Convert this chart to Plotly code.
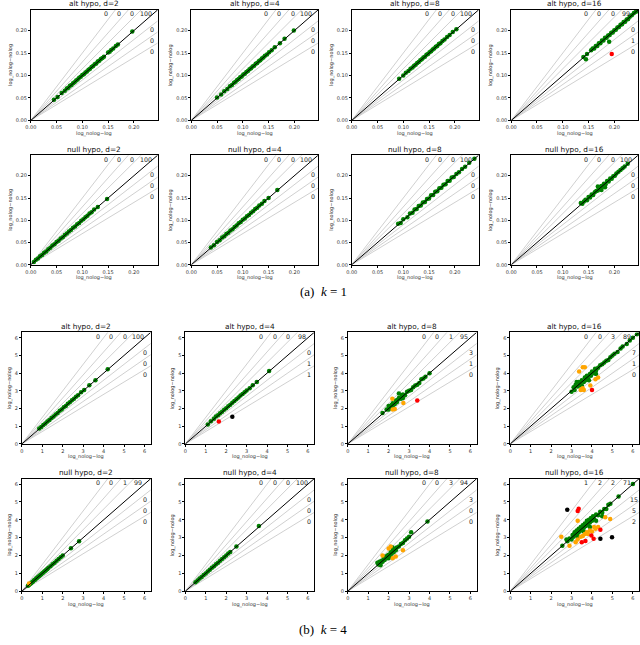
import plotly.graph_objects as go

# ---------------- data ----------------
slopes = [1.5, 1.3, 1.15, 0.9, 0.8, 0.7]
region_colors = ["#008000", "#FFA500", "#FF0000", "#000000"]
k1_max = 0.246
k4_max = 6.3
k1_ticks = [0.0, 0.05, 0.10, 0.15, 0.20]
k4_ticks = [0, 1, 2, 3, 4, 5, 6]
x_label = "log_nolog\u2212log"
y_label = "log_nolog\u2212nolog"

titles = ["alt hypo, d=2", "alt hypo, d=4", "alt hypo, d=8", "alt hypo, d=16",
          "null hypo, d=2", "null hypo, d=4", "null hypo, d=8", "null hypo, d=16"]

# k = 1, alternative hypothesis
a1_d2_x = [0.045, 0.052, 0.060, 0.066, 0.070, 0.073, 0.076, 0.079, 0.082, 0.085, 0.088, 0.091, 0.094, 0.097,
           0.100, 0.103, 0.106, 0.109, 0.112, 0.115, 0.118, 0.121, 0.124, 0.127, 0.130, 0.133, 0.136, 0.139,
           0.142, 0.150, 0.153, 0.156, 0.160, 0.165, 0.169, 0.197]
a1_d2_y = [0.046, 0.052, 0.061, 0.066, 0.071, 0.073, 0.077, 0.079, 0.083, 0.085, 0.089, 0.091, 0.095, 0.097,
           0.101, 0.103, 0.107, 0.109, 0.113, 0.115, 0.119, 0.121, 0.125, 0.127, 0.131, 0.133, 0.137, 0.139,
           0.142, 0.151, 0.153, 0.157, 0.160, 0.166, 0.169, 0.198]
a1_d4_x = [0.050, 0.058, 0.064, 0.070, 0.075, 0.079, 0.083, 0.086, 0.089, 0.092, 0.095, 0.098, 0.101, 0.104,
           0.107, 0.110, 0.113, 0.116, 0.119, 0.122, 0.125, 0.128, 0.131, 0.134, 0.137, 0.140, 0.143, 0.147,
           0.151, 0.156, 0.162, 0.172, 0.181, 0.199]
a1_d4_y = [0.051, 0.058, 0.065, 0.070, 0.076, 0.079, 0.084, 0.086, 0.090, 0.092, 0.096, 0.098, 0.102, 0.104,
           0.108, 0.110, 0.114, 0.116, 0.120, 0.122, 0.126, 0.128, 0.132, 0.134, 0.138, 0.140, 0.144, 0.147,
           0.152, 0.156, 0.163, 0.172, 0.182, 0.200]
a1_d8_x = [0.092, 0.100, 0.105, 0.110, 0.114, 0.118, 0.121, 0.124, 0.127, 0.130, 0.133, 0.136, 0.139, 0.142,
           0.145, 0.148, 0.151, 0.154, 0.157, 0.160, 0.163, 0.166, 0.169, 0.172, 0.176, 0.180, 0.185, 0.190,
           0.196, 0.203]
a1_d8_y = [0.093, 0.100, 0.106, 0.110, 0.115, 0.118, 0.122, 0.124, 0.128, 0.130, 0.134, 0.136, 0.140, 0.142,
           0.146, 0.148, 0.152, 0.154, 0.158, 0.160, 0.164, 0.166, 0.170, 0.172, 0.177, 0.180, 0.186, 0.190,
           0.197, 0.203]
a1_d16_x = [0.140, 0.145, 0.147, 0.155, 0.158, 0.161, 0.164, 0.167, 0.170, 0.173, 0.176, 0.179, 0.182, 0.185,
            0.188, 0.191, 0.194, 0.197, 0.200, 0.203, 0.206, 0.209, 0.212, 0.215, 0.218, 0.221, 0.224, 0.227,
            0.230, 0.234, 0.238, 0.242, 0.190, 0.195]
a1_d16_y = [0.141, 0.136, 0.148, 0.156, 0.160, 0.160, 0.166, 0.166, 0.172, 0.172, 0.178, 0.178, 0.184, 0.184,
            0.189, 0.190, 0.195, 0.196, 0.201, 0.202, 0.207, 0.208, 0.213, 0.214, 0.219, 0.220, 0.225, 0.226,
            0.231, 0.234, 0.239, 0.242, 0.175, 0.148]

# k = 1, null hypothesis
n1_d2_x = [0.006, 0.010, 0.014, 0.018, 0.022, 0.026, 0.030, 0.034, 0.038, 0.042, 0.046, 0.050, 0.054, 0.058,
           0.062, 0.066, 0.070, 0.074, 0.078, 0.082, 0.086, 0.090, 0.094, 0.098, 0.102, 0.106, 0.110, 0.114,
           0.118, 0.123, 0.130, 0.148]
n1_d2_y = [0.006, 0.011, 0.014, 0.019, 0.022, 0.027, 0.030, 0.035, 0.038, 0.043, 0.046, 0.051, 0.054, 0.059,
           0.062, 0.067, 0.070, 0.075, 0.078, 0.083, 0.086, 0.091, 0.094, 0.099, 0.102, 0.107, 0.110, 0.115,
           0.118, 0.124, 0.130, 0.148]
n1_d4_x = [0.038, 0.044, 0.050, 0.055, 0.060, 0.064, 0.068, 0.072, 0.076, 0.080, 0.084, 0.088, 0.092, 0.096,
           0.100, 0.104, 0.108, 0.112, 0.116, 0.120, 0.124, 0.128, 0.132, 0.137, 0.142, 0.150, 0.167]
n1_d4_y = [0.039, 0.044, 0.051, 0.055, 0.061, 0.064, 0.069, 0.072, 0.077, 0.080, 0.085, 0.088, 0.093, 0.096,
           0.101, 0.104, 0.109, 0.112, 0.117, 0.120, 0.125, 0.128, 0.133, 0.137, 0.143, 0.150, 0.168]
n1_d8_x = [0.090, 0.095, 0.100, 0.108, 0.113, 0.118, 0.122, 0.126, 0.130, 0.134, 0.138, 0.142, 0.146, 0.150,
           0.154, 0.158, 0.162, 0.166, 0.170, 0.174, 0.178, 0.182, 0.186, 0.190, 0.194, 0.198, 0.203, 0.208,
           0.214, 0.220, 0.228, 0.238]
n1_d8_y = [0.092, 0.094, 0.102, 0.107, 0.115, 0.117, 0.124, 0.125, 0.132, 0.133, 0.140, 0.141, 0.148, 0.149,
           0.156, 0.157, 0.164, 0.165, 0.172, 0.173, 0.180, 0.181, 0.188, 0.189, 0.196, 0.197, 0.204, 0.208,
           0.215, 0.220, 0.229, 0.238]
n1_d16_x = [0.135, 0.138, 0.141, 0.144, 0.147, 0.150, 0.153, 0.156, 0.159, 0.162, 0.165, 0.168, 0.170, 0.172,
            0.175, 0.178, 0.180, 0.183, 0.186, 0.189, 0.192, 0.195, 0.198, 0.201, 0.204, 0.208, 0.212, 0.216,
            0.220, 0.226, 0.168, 0.175, 0.182]
n1_d16_y = [0.139, 0.137, 0.142, 0.146, 0.145, 0.152, 0.151, 0.158, 0.157, 0.163, 0.166, 0.167, 0.174, 0.170,
            0.177, 0.176, 0.182, 0.181, 0.188, 0.187, 0.194, 0.193, 0.199, 0.200, 0.205, 0.209, 0.213, 0.217,
            0.221, 0.227, 0.176, 0.168, 0.174]

# k = 4, alternative hypothesis
a4_d2_x = [0.85, 0.95, 1.05, 1.15, 1.25, 1.35, 1.45, 1.55, 1.65, 1.75, 1.85, 1.95, 2.05, 2.15, 2.25, 2.35,
           2.45, 2.55, 2.65, 2.75, 2.90, 3.05, 3.30, 3.60, 4.20]
a4_d2_y = [0.87, 0.96, 1.07, 1.15, 1.27, 1.35, 1.47, 1.55, 1.67, 1.75, 1.87, 1.95, 2.07, 2.15, 2.27, 2.35,
           2.47, 2.55, 2.67, 2.75, 2.92, 3.05, 3.32, 3.60, 4.22]
a4_d4_x = [1.10, 1.25, 1.40, 1.50, 1.60, 1.70, 1.80, 1.90, 2.00, 2.10, 2.20, 2.30, 2.40, 2.50, 2.60, 2.70,
           2.80, 2.90, 3.00, 3.15, 3.30, 3.50, 4.10, 1.64, 2.30]
a4_d4_y = [1.10, 1.28, 1.42, 1.55, 1.62, 1.73, 1.82, 1.93, 2.02, 2.13, 2.22, 2.33, 2.42, 2.53, 2.62, 2.73,
           2.82, 2.92, 3.02, 3.15, 3.32, 3.50, 4.12, 1.27, 1.54]
a4_d8_x = [1.70, 1.90, 2.00, 2.05, 2.10, 2.15, 2.20, 2.30, 2.35, 2.40, 2.45, 2.50, 2.60, 2.65, 2.70, 2.80,
           2.90, 3.00, 3.10, 3.20, 3.30, 3.40, 3.50, 3.60, 3.70, 3.80, 4.00, 2.50, 2.20, 2.00, 2.70,
           2.18, 2.20, 2.30, 2.72, 3.40]
a4_d8_y = [1.75, 1.95, 1.95, 2.15, 2.05, 2.20, 2.30, 2.25, 2.45, 2.35, 2.50, 2.60, 2.55, 2.75, 2.80, 2.75,
           2.95, 3.00, 3.05, 3.20, 3.30, 3.35, 3.45, 3.65, 3.70, 3.80, 4.00, 2.85, 2.10, 2.15, 2.60,
           2.55, 1.95, 1.98, 2.32, 2.45]
a4_d16_x = [3.00, 3.10, 3.15, 3.20, 3.30, 3.35, 3.40, 3.45, 3.50, 3.60, 3.65, 3.70, 3.75, 3.80, 3.90, 3.95,
            4.00, 4.10, 4.15, 4.20, 4.30, 4.40, 4.50, 4.60, 4.70, 4.80, 4.90, 5.00, 5.10, 5.25, 5.40, 5.50,
            5.70, 5.85, 6.00, 6.20, 3.50, 3.25, 4.20, 3.85,
            3.37, 3.55, 3.65, 3.45, 3.50, 3.60, 3.55, 3.92, 4.17, 4.30, 4.00]
a4_d16_y = [2.95, 3.20, 3.05, 3.35, 3.25, 3.50, 3.40, 3.30, 3.60, 3.50, 3.75, 3.60, 3.85, 3.70, 3.95, 3.85,
            4.10, 4.00, 4.25, 4.15, 4.30, 4.45, 4.50, 4.60, 4.70, 4.75, 4.90, 5.00, 5.10, 5.20, 5.40, 5.50,
            5.65, 5.85, 6.00, 6.20, 3.30, 3.50, 3.95, 3.60,
            4.09, 4.33, 4.33, 3.05, 3.10, 3.05, 3.15, 3.30, 3.66, 3.75, 3.05]

# k = 4, null hypothesis
n4_d2_x = [0.30, 0.35, 0.40, 0.45, 0.50, 0.55, 0.60, 0.65, 0.70, 0.75, 0.80, 0.85, 0.90, 0.95, 1.00, 1.05,
           1.10, 1.15, 1.20, 1.25, 1.30, 1.40, 1.50, 1.60, 1.70, 1.80, 1.90, 2.00, 2.40, 2.80, 0.35]
n4_d2_y = [0.31, 0.35, 0.41, 0.45, 0.51, 0.55, 0.61, 0.65, 0.71, 0.75, 0.81, 0.85, 0.91, 0.95, 1.01, 1.05,
           1.11, 1.15, 1.21, 1.25, 1.31, 1.40, 1.51, 1.60, 1.71, 1.80, 1.91, 2.00, 2.41, 2.80, 0.43]
n4_d4_x = [0.50, 0.60, 0.70, 0.80, 0.90, 1.00, 1.10, 1.20, 1.30, 1.40, 1.50, 1.60, 1.70, 1.80, 1.90, 2.00,
           2.10, 2.20, 2.50, 3.60]
n4_d4_y = [0.51, 0.60, 0.71, 0.80, 0.91, 1.00, 1.11, 1.20, 1.31, 1.40, 1.51, 1.60, 1.71, 1.80, 1.91, 2.00,
           2.11, 2.20, 2.50, 3.65]
n4_d8_x = [1.45, 1.50, 1.55, 1.60, 1.65, 1.70, 1.75, 1.80, 1.85, 1.90, 1.95, 2.00, 2.05, 2.10, 2.15, 2.20,
           2.25, 2.30, 2.35, 2.40, 2.50, 2.60, 2.70, 2.80, 2.90, 3.00, 3.10, 3.90, 1.60, 2.00, 2.20,
           1.70, 2.00, 2.10, 2.35, 2.20, 2.70]
n4_d8_y = [1.60, 1.50, 1.65, 1.55, 1.70, 1.65, 1.80, 1.75, 1.95, 1.85, 2.00, 2.05, 1.95, 2.20, 2.10, 2.30,
           2.20, 2.35, 2.30, 2.45, 2.50, 2.65, 2.70, 2.85, 2.95, 3.05, 3.30, 3.90, 1.45, 1.85, 2.45,
           2.00, 2.40, 2.50, 1.95, 1.85, 2.30]
n4_d16_x = [2.55, 2.80, 2.90, 3.00, 3.05, 3.10, 3.15, 3.20, 3.25, 3.30, 3.35, 3.40, 3.45, 3.50, 3.55, 3.60,
            3.65, 3.70, 3.75, 3.80, 3.85, 3.90, 3.95, 4.00, 4.05, 4.10, 4.20, 4.30, 4.40, 4.50, 4.60, 4.70,
            4.80, 4.90, 5.30, 6.00, 2.75, 3.30, 3.60, 3.90, 4.20, 4.50,
            2.79, 3.30, 3.35, 2.50, 3.30,
            2.90, 3.20, 3.30, 3.45, 3.55, 3.65, 3.75, 3.80, 3.90, 4.00, 4.10, 4.17, 4.30, 4.65, 4.89,
            3.50, 3.68, 3.97, 4.08, 4.41, 4.41, 4.98]
n4_d16_y = [2.55, 2.80, 2.95, 2.90, 3.15, 3.05, 3.30, 3.15, 3.40, 3.25, 3.50, 3.35, 3.60, 3.45, 3.70, 3.55,
            3.80, 3.65, 3.95, 3.75, 4.00, 3.85, 4.10, 3.95, 4.20, 4.05, 4.30, 4.25, 4.45, 4.40, 4.60, 4.60,
            4.85, 4.90, 5.30, 6.00, 2.90, 3.05, 3.35, 3.60, 3.95, 4.20,
            4.57, 4.50, 4.62, 3.05, 3.95,
            2.55, 2.75, 2.90, 3.05, 3.10, 3.20, 3.30, 3.20, 3.40, 3.35, 3.60, 3.50, 3.60, 4.14, 4.05,
            2.75, 2.81, 3.12, 2.94, 3.44, 2.94, 3.03]

# region counts printed in each panel (top row of labels, right column of labels)
top_counts = [[0, 0, 0, 100], [0, 0, 0, 100], [0, 0, 0, 100], [0, 0, 0, 99],
              [0, 0, 0, 100], [0, 0, 0, 100], [0, 0, 0, 100], [0, 0, 0, 100],
              [0, 0, 0, 100], [0, 0, 0, 98], [0, 0, 1, 95], [0, 0, 3, 89],
              [0, 0, 1, 99], [0, 0, 0, 100], [0, 0, 3, 94], [1, 2, 2, 71]]
right_counts = [[0, 0, 0], [0, 0, 0], [0, 0, 0], [0, 1, 0],
                [0, 0, 0], [0, 0, 0], [0, 0, 0], [0, 0, 0],
                [0, 0, 0], [0, 1, 1], [3, 1, 0], [7, 1, 0],
                [0, 0, 0], [0, 0, 0], [3, 0, 0], [15, 5, 2]]

panels = [
    (a1_d2_x, a1_d2_y), (a1_d4_x, a1_d4_y), (a1_d8_x, a1_d8_y), (a1_d16_x, a1_d16_y),
    (n1_d2_x, n1_d2_y), (n1_d4_x, n1_d4_y), (n1_d8_x, n1_d8_y), (n1_d16_x, n1_d16_y),
    (a4_d2_x, a4_d2_y), (a4_d4_x, a4_d4_y), (a4_d8_x, a4_d8_y), (a4_d16_x, a4_d16_y),
    (n4_d2_x, n4_d2_y), (n4_d4_x, n4_d4_y), (n4_d8_x, n4_d8_y), (n4_d16_x, n4_d16_y),
]

# ---------------- layout geometry (pixels) ----------------
W, H = 640, 645
row_px = [(10, 121), (156, 266), (334, 446), (481, 594)]
col_left_k1 = [25, 187, 349, 510]
col_left_k4 = [16, 181, 345, 509]
col_w_k1 = 128
col_w_k4 = 130


def color_of(x, y):
    r = y / x
    idx = sum(1 for s in slopes if r < s)
    return region_colors[min(abs(idx - 3), 3)]


fig = go.Figure()
layout = dict(width=W, height=H, margin=dict(l=0, r=0, t=0, b=0), autosize=False,
              paper_bgcolor="white", plot_bgcolor="white", showlegend=False)
annotations = []
font_fam = "DejaVu Sans"

for i, (px, py) in enumerate(panels):
    n = i + 1
    row = i // 4
    col = i % 4
    k1 = row < 2
    rmax = k1_max if k1 else k4_max
    left = (col_left_k1 if k1 else col_left_k4)[col]
    width = col_w_k1 if k1 else col_w_k4
    top, bottom = row_px[row]
    xs = "" if n == 1 else str(n)
    xref, yref = "x" + xs, "y" + xs

    # reference lines
    for s in slopes:
        fig.add_trace(go.Scatter(x=[0, rmax * 1.2], y=[0, rmax * 1.2 * s], mode="lines",
                                 line=dict(color="#c4c4c4", width=0.8), xaxis=xref, yaxis=yref,
                                 hoverinfo="skip"))
    # points
    fig.add_trace(go.Scatter(x=px, y=py, mode="markers",
                             marker=dict(size=4.5, color=[color_of(a, b) for a, b in zip(px, py)],
                                         line=dict(width=0)),
                             xaxis=xref, yaxis=yref, cliponaxis=True))
    # diagonal
    fig.add_trace(go.Scatter(x=[0, rmax * 1.2], y=[0, rmax * 1.2], mode="lines",
                             line=dict(color="black", width=1), xaxis=xref, yaxis=yref,
                             hoverinfo="skip"))

    ticks = k1_ticks if k1 else k4_ticks
    ticktext = ["%.2f" % t for t in ticks] if k1 else [str(t) for t in ticks]
    common = dict(range=[0, rmax], tickvals=ticks, ticktext=ticktext, ticks="outside", ticklen=2,
                  tickwidth=0.6, tickcolor="black", tickfont=dict(size=5, color="#333", family=font_fam),
                  showgrid=False, zeroline=False, showline=True, mirror=True, linecolor="black",
                  linewidth=0.8, fixedrange=True)
    layout["xaxis" + xs] = dict(common, domain=[left / W, (left + width) / W], anchor=yref)
    layout["yaxis" + xs] = dict(common, domain=[1 - bottom / H, 1 - top / H], anchor=xref)

    dref_x, dref_y = xref + " domain", yref + " domain"
    # title
    annotations.append(dict(text=titles[i % 8], x=0.5, y=1, xref=dref_x, yref=dref_y, yshift=6,
                            showarrow=False, xanchor="center", yanchor="middle",
                            font=dict(size=7.3, color="#111", family=font_fam)))
    # axis labels
    annotations.append(dict(text=x_label, x=0.5, y=0, xref=dref_x, yref=dref_y, yshift=-13,
                            showarrow=False, xanchor="center", yanchor="middle",
                            font=dict(size=5, color="#333", family=font_fam)))
    annotations.append(dict(text=y_label, x=0, y=0.5, xref=dref_x, yref=dref_y,
                            xshift=(-21 if k1 else -13), textangle=-90,
                            showarrow=False, xanchor="center", yanchor="middle",
                            font=dict(size=5, color="#333", family=font_fam)))
    # region counts
    for c, fx in zip(top_counts[i], [0.59, 0.695, 0.80, 0.905]):
        annotations.append(dict(text=str(c), x=fx, y=0.965, xref=dref_x, yref=dref_y,
                                showarrow=False, xanchor="center", yanchor="middle",
                                font=dict(size=6.3, color="#222", family=font_fam)))
    for c, fy in zip(right_counts[i], [0.82, 0.72, 0.62]):
        annotations.append(dict(text=str(c), x=0.96, y=fy, xref=dref_x, yref=dref_y,
                                showarrow=False, xanchor="center", yanchor="middle",
                                font=dict(size=6.3, color="#222", family=font_fam)))

# captions
annotations.append(dict(text="(a)  <i>k</i> = 1", x=320 / W, y=1 - 293 / H, xref="paper", yref="paper",
                        showarrow=False, xanchor="center", yanchor="middle",
                        font=dict(size=13, color="black", family="Liberation Serif")))
annotations.append(dict(text="(b)  <i>k</i> = 4", x=320 / W, y=1 - 632 / H, xref="paper", yref="paper",
                        showarrow=False, xanchor="center", yanchor="middle",
                        font=dict(size=13, color="black", family="Liberation Serif")))

layout["annotations"] = annotations
fig.update_layout(**layout)
fig.write_html("out.html", config={"displayModeBar": False},
               post_script="document.body.style.margin='0px';document.body.style.overflow='hidden';")
